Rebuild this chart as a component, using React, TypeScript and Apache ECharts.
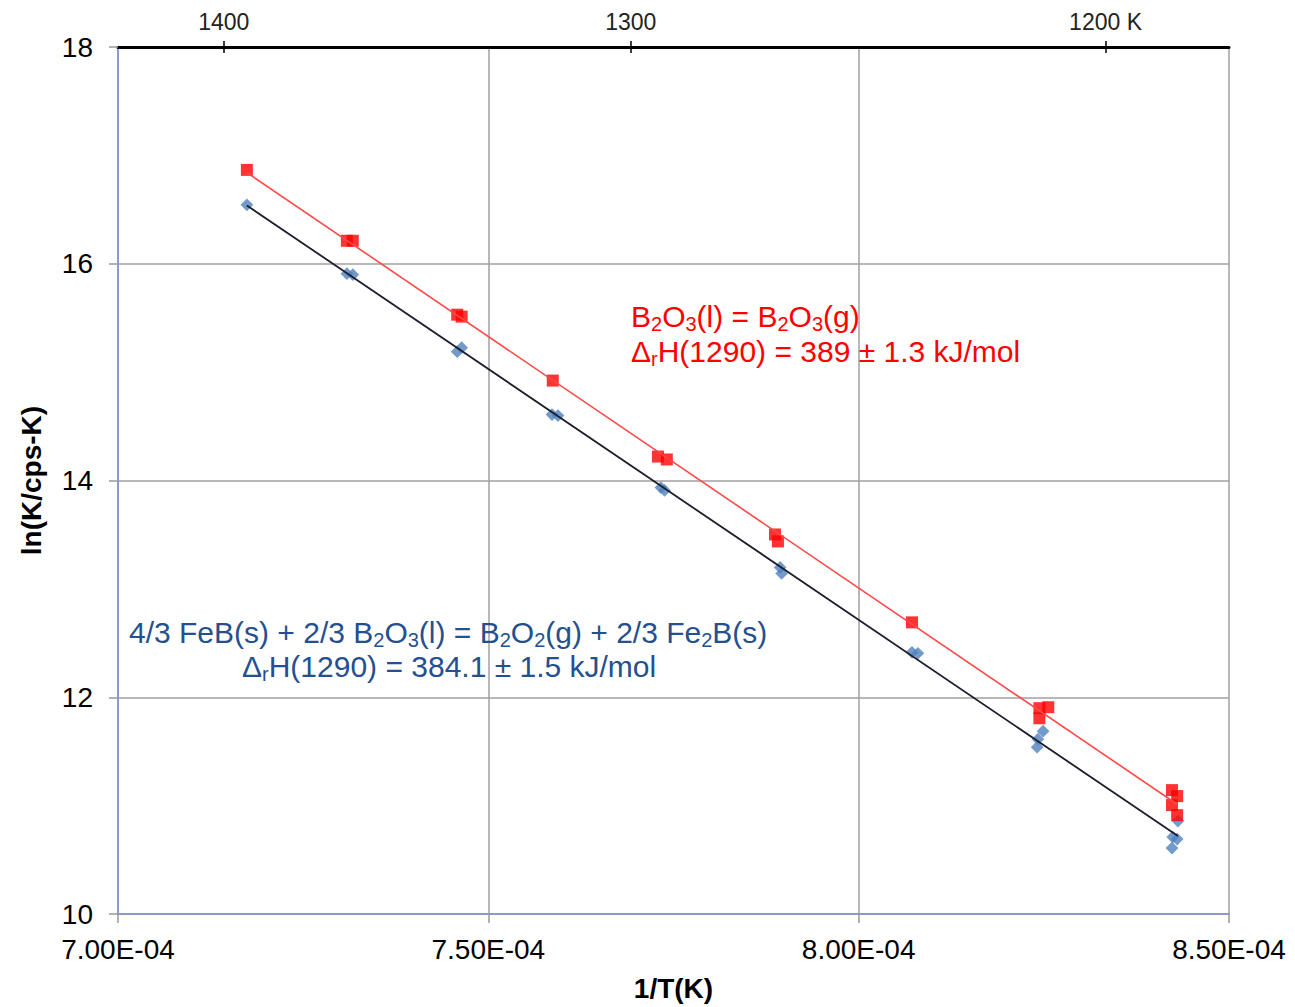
import React, { useEffect, useRef } from "react";
import * as echarts from "echarts";

// 1/T in units of 1e-4 K^-1, ln(K/cps-K)
const b2o3X = [7.174, 7.309, 7.317, 7.458, 7.464, 7.587, 7.729, 7.741, 7.887, 7.891, 8.072, 8.244, 8.256, 8.244, 8.423, 8.430, 8.423, 8.430];
const b2o3Y = [16.866, 16.212, 16.212, 15.530, 15.512, 14.922, 14.221, 14.194, 13.502, 13.438, 12.691, 11.899, 11.908, 11.806, 11.143, 11.088, 11.005, 10.912];

const b2o2X = [7.174, 7.309, 7.317, 7.458, 7.464, 7.586, 7.594, 7.733, 7.738, 7.894, 7.896, 8.072, 8.080, 8.249, 8.242, 8.241, 8.431, 8.424, 8.430, 8.423];
const b2o2Y = [16.544, 15.908, 15.899, 15.189, 15.226, 14.608, 14.599, 13.935, 13.908, 13.198, 13.143, 12.415, 12.406, 11.687, 11.613, 11.539, 10.857, 10.710, 10.691, 10.608];

const topTempTicks = [1400, 1300, 1200];
const xMin = 7.0, xMax = 8.5, xStep = 0.5;
const yMin = 10, yMax = 18, yStep = 2;

function fit(xs: number[], ys: number[]) {
  const n = xs.length;
  const mx = xs.reduce((a, b) => a + b, 0) / n;
  const my = ys.reduce((a, b) => a + b, 0) / n;
  let sxy = 0, sxx = 0;
  for (let i = 0; i < n; i++) {
    sxy += (xs[i] - mx) * (ys[i] - my);
    sxx += (xs[i] - mx) * (xs[i] - mx);
  }
  const b = sxy / sxx;
  const a = my - b * mx;
  const x0 = Math.min(...xs), x1 = Math.max(...xs);
  return [[x0, a + b * x0], [x1, a + b * x1]];
}

const zip = (xs: number[], ys: number[]) => xs.map((x, i) => [x, ys[i]]);

const FONT = "'Liberation Sans', Arial, sans-serif";
const RED = "#ff0000";
const BLUE_TXT = "#24508f";

export default function App() {
  const ref = useRef<HTMLDivElement>(null);
  useEffect(() => {
    const chart = echarts.init(ref.current!, null, { renderer: "svg" });
    const topVals = topTempTicks.map((t) => 1e4 / t);
    const richMain = (color: string) => ({
      a: { fontSize: 30, fontFamily: FONT, fill: color, lineHeight: 36 },
      s: { fontSize: 20, fontFamily: FONT, fill: color, lineHeight: 16, verticalAlign: "bottom" },
    });
    chart.setOption({
      animation: false,
      backgroundColor: "#ffffff",
      textStyle: { fontFamily: FONT },
      grid: { left: 118, right: 66, top: 47, bottom: 92, containLabel: false },
      xAxis: [
        {
          type: "value",
          position: "bottom",
          min: xMin,
          max: xMax,
          interval: xStep,
          axisLine: { show: true, onZero: false, lineStyle: { color: "#8f99c9", width: 2 } },
          axisTick: { show: true, inside: false, length: 9, lineStyle: { color: "#999999", width: 1.5 } },
          splitLine: { show: true, lineStyle: { color: "#a0a0a0", width: 1.5 } },
          axisLabel: {
            fontSize: 28,
            color: "#000",
            fontFamily: FONT,
            margin: 21,
            formatter: (v: number) => v.toFixed(2) + "E-04",
          },
          name: "1/T(K)",
          nameLocation: "middle",
          nameGap: 60,
          nameTextStyle: { fontSize: 28, fontWeight: "bold", color: "#000", fontFamily: FONT },
        },
        {
          type: "value",
          position: "top",
          min: xMin,
          max: xMax,
          axisLine: { show: true, onZero: false, lineStyle: { color: "#000", width: 3 } },
          axisTick: { show: true, inside: false, length: 6, customValues: topVals, lineStyle: { color: "#000", width: 1.5 } },
          splitLine: { show: false },
          axisLabel: {
            show: true,
            customValues: topVals,
            fontSize: 23,
            color: "#222",
            fontFamily: FONT,
            margin: 14,
            formatter: (v: number) => {
              const t = Math.round(1e4 / v);
              return t === topTempTicks[topTempTicks.length - 1] ? t + " K" : String(t);
            },
          },
        },
        {
          type: "value",
          position: "top",
          min: xMin,
          max: xMax,
          axisLine: { show: false },
          axisTick: { show: true, inside: true, length: 6, customValues: topVals, lineStyle: { color: "#000", width: 1.5 } },
          splitLine: { show: false },
          axisLabel: { show: false },
        },
      ],
      yAxis: {
        type: "value",
        min: yMin,
        max: yMax,
        interval: yStep,
        axisLine: { show: true, lineStyle: { color: "#8f99c9", width: 2 } },
        axisTick: { show: true, inside: false, length: 9, lineStyle: { color: "#999999", width: 1.5 } },
        splitLine: { show: true, lineStyle: { color: "#a0a0a0", width: 1.5 } },
        axisLabel: { fontSize: 28, color: "#000", fontFamily: FONT, margin: 25 },
        name: "ln(K/cps-K)",
        nameLocation: "middle",
        nameRotate: 90,
        nameGap: 73,
        nameTextStyle: { fontSize: 28, fontWeight: "bold", color: "#000", fontFamily: FONT },
      },
      series: [
        {
          type: "scatter",
          name: "B2O2",
          data: zip(b2o2X, b2o2Y),
          symbol: "rect",
          symbolSize: 9,
          symbolRotate: 45,
          itemStyle: { color: "#4f81bd" },
          z: 2,
        },
        {
          type: "scatter",
          name: "B2O3",
          data: zip(b2o3X, b2o3Y),
          symbol: "rect",
          symbolSize: 12,
          itemStyle: { color: RED },
          z: 3,
        },
        {
          type: "line",
          name: "fit B2O2",
          data: fit(b2o2X, b2o2Y),
          showSymbol: false,
          symbol: "none",
          lineStyle: { color: "#1c1c2c", width: 1.8 },
          z: 4,
        },
        {
          type: "line",
          name: "fit B2O3",
          data: fit(b2o3X, b2o3Y),
          showSymbol: false,
          symbol: "none",
          lineStyle: { color: "#ff4848", width: 1.6 },
          z: 4,
        },
      ],
      graphic: [
        {
          type: "text",
          x: 631,
          y: 316,
          z: 10,
          style: {
            text: "{a|B}{s|2}{a|O}{s|3}{a|(l) = B}{s|2}{a|O}{s|3}{a|(g)}",
            rich: richMain(RED),
            verticalAlign: "middle",
            align: "left",
          },
        },
        {
          type: "text",
          x: 631,
          y: 351,
          z: 10,
          style: {
            text: "{a|Δ}{s|r}{a|H(1290) = 389 ± 1.3 kJ/mol}",
            rich: richMain(RED),
            verticalAlign: "middle",
            align: "left",
          },
        },
        {
          type: "text",
          x: 129,
          y: 632,
          z: 10,
          style: {
            text: "{a|4/3 FeB(s) + 2/3 B}{s|2}{a|O}{s|3}{a|(l) = B}{s|2}{a|O}{s|2}{a|(g) + 2/3 Fe}{s|2}{a|B(s)}",
            rich: richMain(BLUE_TXT),
            verticalAlign: "middle",
            align: "left",
          },
        },
        {
          type: "text",
          x: 242,
          y: 666,
          z: 10,
          style: {
            text: "{a|Δ}{s|r}{a|H(1290) = 384.1 ± 1.5 kJ/mol}",
            rich: richMain(BLUE_TXT),
            verticalAlign: "middle",
            align: "left",
          },
        },
      ],
    });
    return () => chart.dispose();
  }, []);
  return (
    <div
      ref={ref}
      style={{ position: "absolute", left: 0, top: 0, width: 1295, height: 1007, background: "#fff" }}
    />
  );
}
